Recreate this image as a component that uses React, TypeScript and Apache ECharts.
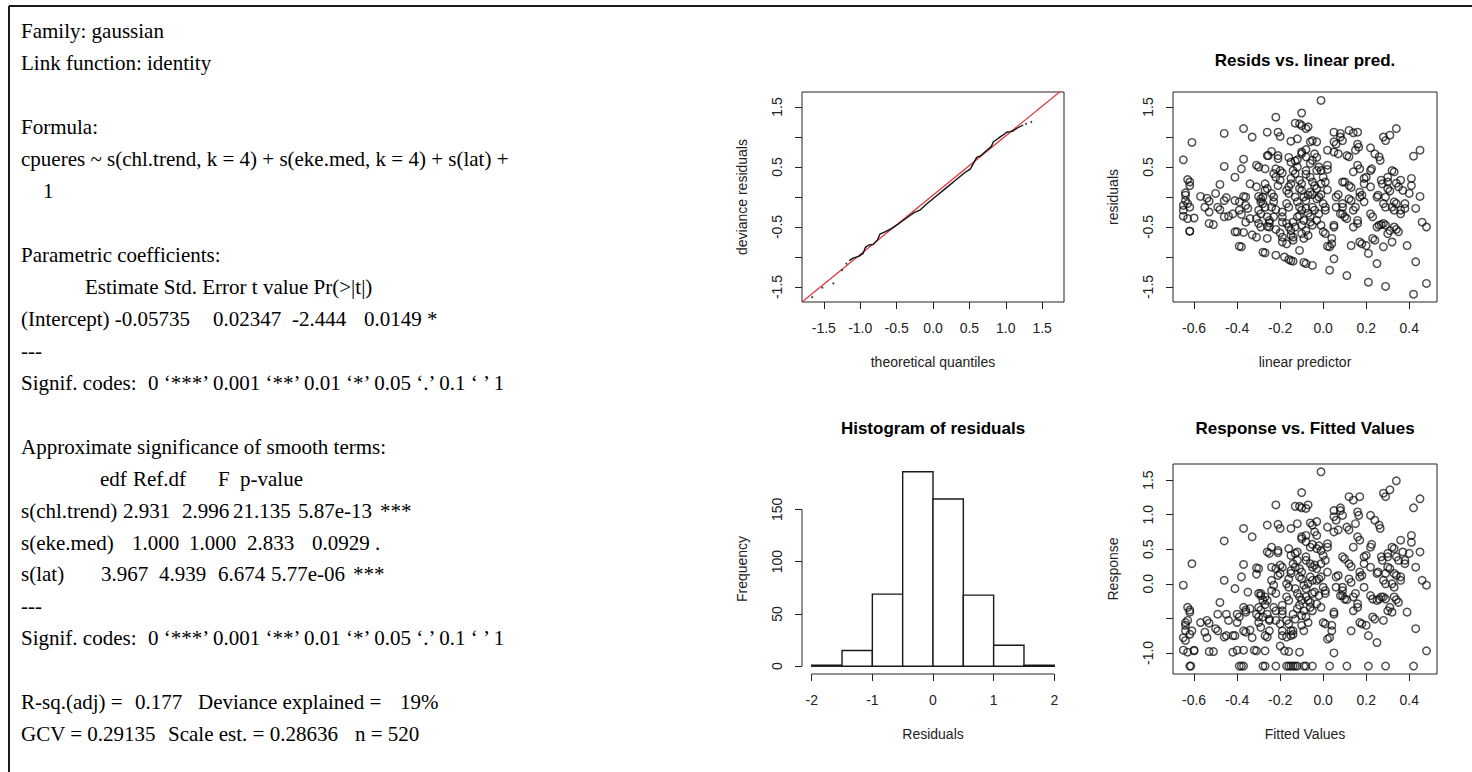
import React, { useEffect, useRef } from "react";
import * as echarts from "echarts";

// ---------------- data ----------------
// QQ plot: theoretical quantiles vs deviance residuals (dense curve)
const qqTheoretical = [-1.15, -1.1, -1.02, -0.96, -0.93, -0.88, -0.82, -0.76, -0.73, -0.66, -0.58, -0.5, -0.42, -0.34, -0.26, -0.18, -0.1, -0.02, 0.05, 0.14, 0.22, 0.3, 0.38, 0.45, 0.51, 0.56, 0.6, 0.66, 0.74, 0.8, 0.83, 0.9, 0.96, 1.01, 1.06, 1.1, 1.16, 1.24];
const qqSample = [-1.06, -1.02, -0.99, -0.94, -0.84, -0.8, -0.79, -0.71, -0.62, -0.58, -0.53, -0.47, -0.4, -0.33, -0.26, -0.22, -0.13, -0.05, 0.02, 0.11, 0.19, 0.27, 0.35, 0.42, 0.46, 0.57, 0.66, 0.69, 0.78, 0.84, 0.92, 0.98, 1.03, 1.08, 1.09, 1.1, 1.15, 1.2];
// isolated QQ points at the tails
const qqTailPoints: [number, number][] = [[-1.66, -1.67], [-1.52, -1.51], [-1.37, -1.44], [-1.25, -1.22], [-1.19, -1.11], [1.28, 1.22], [1.35, 1.25]];
// reference (red) line end points
const qqRefLine: [number, number][] = [[-1.8, -1.75], [1.8, 1.81]];

// Histogram of residuals: bin edges and counts
const histBinEdges = [-2, -1.5, -1, -0.5, 0, 0.5, 1, 1.5, 2];
const histCounts = [1, 15, 69, 186, 160, 68, 20, 1];

// Residuals vs linear predictor [linear predictor, residual]
const residVsPred: [number, number][] = [
  [-0.65, 0.62], [-0.61, 0.91], [-0.63, 0.29], [-0.62, 0.25], [-0.64, 0.07], [-0.64, 0.03], [-0.65, -0.14], [-0.65, -0.22], [-0.65, -0.32], [-0.63, -0.36], [-0.63, -0.11], [-0.62, -0.17], [-0.62, -0.57], [-0.62, -0.57], [-0.6, -0.35], [-0.62, 0.19], [-0.64, -0.06],
  [-0.57, 0.01], [-0.54, -0.02], [-0.53, -0.07], [-0.55, -0.17], [-0.53, -0.25], [-0.53, -0.44], [-0.51, -0.46], [-0.5, 0.06], [-0.48, 0.21], [-0.49, -0.17], [-0.48, -0.21], [-0.46, 0.51], [-0.46, 1.06], [-0.46, -0.06], [-0.45, -0.01], [-0.46, -0.33], [-0.44, -0.32],
  [-0.41, -0.58], [-0.4, -0.58], [-0.41, 0.33], [-0.41, -0.06], [-0.39, -0.08], [-0.42, -0.28], [-0.39, -0.22], [-0.38, -0.29], [-0.39, -0.82], [-0.38, -0.83], [-0.38, 0.47], [-0.37, 1.14], [-0.37, 0.63], [-0.37, 0.01], [-0.36, 0.0], [-0.37, -0.59], [-0.36, -0.42], [-0.36, -0.14], [-0.35, -0.19], [-0.34, -0.36],
  [-0.33, 1.0], [-0.34, 0.22], [-0.33, -0.63], [-0.31, -0.67], [-0.31, 0.53], [-0.3, 0.5], [-0.31, 0.17], [-0.3, 0.01], [-0.29, -0.03], [-0.29, -0.08], [-0.3, -0.22], [-0.29, -0.28], [-0.31, -0.36], [-0.3, -0.44], [-0.29, -0.5], [-0.28, -0.92], [-0.27, -0.93], [-0.28, -0.11], [-0.27, -0.17], [-0.27, 0.11], [-0.26, 0.14], [-0.27, 0.22], [-0.27, 0.47], [-0.26, 0.69], [-0.255, 0.69], [-0.26, 1.08], [-0.26, -0.33], [-0.25, -0.39], [-0.25, -0.43], [-0.25, -0.5], [-0.26, -0.49], [-0.26, -0.69], [-0.28, 0.0],
  [-0.24, 0.76], [-0.23, 0.39], [-0.22, 0.33], [-0.24, 0.06], [-0.23, 0.0], [-0.23, -0.08], [-0.24, -0.17], [-0.22, -0.21], [-0.23, -0.33], [-0.22, 1.33], [-0.21, 1.08], [-0.2, 1.01], [-0.21, 0.69], [-0.21, 0.64], [-0.22, 0.47], [-0.21, 0.19], [-0.2, 0.28], [-0.22, -0.54], [-0.2, -0.6], [-0.22, -0.97], [-0.19, -0.67], [-0.19, -0.75], [-0.19, -0.25], [-0.19, -0.33], [-0.19, -0.42], [-0.2, 0.44], [-0.19, 0.4], [-0.18, -1.0], [-0.16, -1.04], [-0.17, -0.78], [-0.16, 0.66], [-0.16, 0.17], [-0.17, 0.11], [-0.16, 0.06], [-0.17, -0.11], [-0.16, -0.17], [-0.17, -0.44], [-0.16, -0.5], [-0.15, -0.56], [-0.15, -0.64], [-0.15, 0.93], [-0.15, 0.58], [-0.15, 0.31], [-0.15, 0.22],
  [-0.15, -1.06], [-0.14, -1.07], [-0.14, -0.67], [-0.14, -0.72], [-0.14, -0.42], [-0.13, -0.5], [-0.12, -0.33], [-0.13, 0.0], [-0.12, -0.08], [-0.14, 0.44], [-0.13, 0.39], [-0.12, 0.5], [-0.13, 1.23], [-0.13, 0.6], [-0.12, 0.62], [-0.12, 0.97], [-0.11, -0.89], [-0.11, 1.22], [-0.1, 1.19], [-0.1, 1.4], [-0.1, 0.72], [-0.1, 0.75], [-0.11, 0.28], [-0.1, 0.22], [-0.11, 0.14], [-0.1, 0.11], [-0.11, -0.17], [-0.1, -0.22], [-0.11, -0.31], [-0.09, -0.39], [-0.1, -0.47], [-0.1, -0.61], [-0.09, -0.69], [-0.09, -1.09], [-0.08, -1.11], [-0.08, 1.14], [-0.07, 1.17], [-0.08, 0.79], [-0.08, 0.67], [-0.08, 0.44], [-0.08, 0.38], [-0.09, 0.0], [-0.08, -0.06], [-0.07, 0.03], [-0.08, -0.19], [-0.07, -0.27], [-0.08, -0.56], [-0.07, -0.64], [-0.06, 0.92], [-0.05, 0.94], [-0.05, -1.14], [-0.06, 0.56], [-0.05, 0.61], [-0.06, 0.33], [-0.05, 0.25], [-0.06, 0.08], [-0.05, 0.04], [-0.05, -0.17], [-0.06, -0.33], [-0.06, -0.42], [-0.05, -0.47],
  [-0.01, 1.61], [-0.03, 0.92], [-0.04, 0.72], [-0.03, 0.66], [-0.03, 0.44], [-0.02, 0.5], [-0.04, 0.19], [-0.03, 0.14], [-0.01, 0.22], [-0.03, -0.03], [-0.02, 0.0], [-0.01, 0.04], [-0.04, -0.22], [-0.02, -0.28], [-0.03, -0.39], [-0.01, -0.47], [0.0, -0.58], [0.01, -0.61], [-0.01, 0.44], [0.0, 0.33], [0.01, 0.25], [0.0, -0.11], [0.01, -0.17], [0.01, -0.22], [0.02, 0.78], [0.02, 0.53], [0.02, 0.46], [0.02, 0.12], [0.02, -0.82], [0.03, -0.83], [0.03, -1.22], [0.04, -0.69], [0.04, -0.78], [0.05, -1.03], [0.05, -0.47], [0.05, -0.5], [0.05, 0.92], [0.06, 0.88], [0.05, 1.08], [0.05, 0.75], [0.06, 0.0], [0.07, 0.04], [0.06, -0.17],
  [0.08, 1.0], [0.09, 0.94], [0.08, 1.06], [0.07, 0.72], [0.09, -0.11], [0.09, -0.17], [0.09, -0.28], [0.08, -0.28], [0.09, 0.25], [0.1, 0.25], [0.1, -0.33], [0.11, -0.36], [0.11, -1.31], [0.11, 0.69], [0.12, 0.67], [0.12, 1.11], [0.12, 0.19], [0.13, 0.16], [0.12, -0.03], [0.13, -0.06], [0.13, -0.81], [0.14, 1.07], [0.14, 0.42], [0.14, -0.22], [0.15, -0.17], [0.14, -0.5], [0.15, 0.78], [0.16, -0.39], [0.16, -0.44],
  [0.16, 0.88], [0.165, 0.83], [0.16, 1.08], [0.16, 0.53], [0.17, 0.47], [0.17, 0.08], [0.18, 0.03], [0.17, 0.0], [0.17, -0.75], [0.18, -0.78], [0.19, 0.22], [0.19, 0.31], [0.2, 0.33], [0.19, -0.08], [0.2, -0.81], [0.21, -0.94], [0.21, -1.42], [0.22, 0.44], [0.225, 0.47], [0.22, 0.17], [0.22, 0.82], [0.22, -0.28], [0.23, -0.33], [0.23, -0.69], [0.24, -0.72], [0.24, 0.72], [0.25, 0.0], [0.255, 0.03], [0.25, -1.11], [0.25, -0.5], [0.26, -0.47], [0.27, -0.46],
  [0.26, 0.67], [0.265, 0.61], [0.27, 0.28], [0.275, 0.22], [0.28, 1.0], [0.28, -0.11], [0.29, -0.17], [0.28, -0.44], [0.29, -0.47], [0.28, -0.83], [0.29, -1.49], [0.29, 0.0], [0.29, 0.94], [0.31, 1.03], [0.3, 0.33], [0.3, 0.25], [0.3, 0.14], [0.31, 0.1], [0.3, -0.61], [0.31, -0.56], [0.32, -0.75], [0.32, 0.44], [0.33, 0.42], [0.32, -0.17], [0.33, -0.22], [0.33, -0.5], [0.34, -0.54], [0.35, -0.58], [0.34, 1.14], [0.33, -0.08], [0.34, -0.11], [0.34, 0.23], [0.35, 0.17],
  [0.36, -0.22], [0.36, -0.28], [0.36, 0.28], [0.37, 0.11], [0.38, -0.11], [0.38, -0.19], [0.39, -0.81], [0.4, 0.06], [0.41, 0.31], [0.41, 0.19], [0.42, 0.68], [0.42, -1.62], [0.43, -1.08], [0.43, -0.19], [0.45, 0.01], [0.45, 0.78], [0.46, -0.42], [0.48, -0.5], [0.48, -1.44],
];

// Response vs fitted values [fitted, response]
const responseVsFitted: [number, number][] = [
  [-0.65, -0.02], [-0.61, 0.29], [-0.63, -0.34], [-0.62, -0.38], [-0.62, -0.41], [-0.64, -0.56], [-0.64, -0.6], [-0.63, -0.53], [-0.65, -0.78], [-0.64, -0.82], [-0.62, -0.73], [-0.65, -0.96], [-0.63, -0.99], [-0.6, -0.96], [-0.6, -0.97], [-0.62, -1.19], [-0.615, -1.19], [-0.61, -0.68], [-0.64, -0.68],
  [-0.57, -0.56], [-0.54, -0.53], [-0.53, -0.57], [-0.55, -0.7], [-0.54, -0.78], [-0.53, -0.98], [-0.51, -0.98], [-0.5, -0.65], [-0.49, -0.68], [-0.48, -0.27], [-0.49, -0.44], [-0.46, 0.62], [-0.46, 0.05], [-0.46, -0.77], [-0.45, -0.75], [-0.44, -0.53], [-0.45, -0.44],
  [-0.42, -0.75], [-0.41, -0.75], [-0.42, -0.99], [-0.4, -0.96], [-0.41, -0.07], [-0.4, -0.44], [-0.39, -0.48], [-0.4, -0.56], [-0.39, -1.19], [-0.37, -1.19], [-0.38, -1.19], [-0.38, 0.1], [-0.37, 0.8], [-0.37, 0.28], [-0.37, -0.34], [-0.36, -0.38], [-0.36, -0.41], [-0.37, -0.68], [-0.36, -0.7], [-0.37, -0.96], [-0.35, -0.12], [-0.34, -0.36], [-0.34, -0.67], [-0.33, -0.78], [-0.33, 0.68], [-0.32, -0.96], [-0.31, -0.97],
  [-0.31, 0.23], [-0.3, 0.22], [-0.31, 0.14], [-0.3, -0.14], [-0.29, -0.14], [-0.29, -0.17], [-0.3, -0.34], [-0.29, -0.38], [-0.31, -0.44], [-0.3, -0.48], [-0.3, -0.56], [-0.29, -0.63], [-0.28, -1.19], [-0.27, -1.19], [-0.28, -0.24], [-0.27, -0.3], [-0.27, -0.75], [-0.26, -0.77], [-0.27, -0.97], [-0.27, -0.19], [-0.26, -0.24], [-0.26, 0.46], [-0.25, 0.44], [-0.26, 0.85], [-0.26, -0.44], [-0.25, -0.51], [-0.25, -0.53], [-0.25, -0.68], [-0.28, -0.48],
  [-0.24, 0.53], [-0.24, 0.24], [-0.22, 0.22], [-0.24, 0.05], [-0.23, -0.02], [-0.24, -0.1], [-0.22, -0.14], [-0.23, -0.34], [-0.22, -0.39], [-0.22, 1.14], [-0.21, 0.86], [-0.2, 0.8], [-0.21, 0.48], [-0.21, 0.45], [-0.22, -1.19], [-0.21, 0.12], [-0.2, 0.15], [-0.22, -0.53], [-0.2, -0.58], [-0.2, -0.9], [-0.19, -0.68], [-0.19, -0.75], [-0.19, -0.31], [-0.19, -0.39], [-0.19, -0.44], [-0.2, 0.27], [-0.19, 0.24], [-0.18, -0.97], [-0.16, -0.98], [-0.17, -1.19], [-0.16, -1.19], [-0.15, -1.19], [-0.17, -0.77], [-0.16, 0.51], [-0.16, 0.07], [-0.17, 0.0], [-0.16, -0.05], [-0.17, -0.19], [-0.16, -0.24], [-0.17, -0.53], [-0.16, -0.58], [-0.15, -0.68], [-0.15, -0.75], [-0.15, 0.8], [-0.15, 0.41], [-0.15, 0.19], [-0.15, 0.15],
  [-0.14, -1.19], [-0.13, -1.19], [-0.12, -1.19], [-0.14, -0.68], [-0.14, -0.73], [-0.14, -0.44], [-0.13, -0.51], [-0.12, -0.36], [-0.13, -0.07], [-0.12, -0.14], [-0.14, 0.29], [-0.13, 0.24], [-0.12, 0.34], [-0.13, 1.12], [-0.13, 0.44], [-0.12, 0.46], [-0.12, 0.87], [-0.11, -0.99], [-0.11, 1.12], [-0.1, 1.1], [-0.1, 1.32], [-0.1, 0.65], [-0.1, 0.68], [-0.11, 0.22], [-0.1, 0.17], [-0.11, 0.1], [-0.1, 0.07], [-0.11, -0.19], [-0.1, -0.24], [-0.11, -0.31], [-0.09, -0.39], [-0.1, -0.46], [-0.1, -0.6], [-0.09, -0.68], [-0.09, -1.19], [-0.08, -1.19], [-0.08, 1.09], [-0.07, 1.14], [-0.08, 0.7], [-0.08, 0.61], [-0.08, 0.39], [-0.08, 0.34], [-0.09, -0.02], [-0.08, -0.07], [-0.07, 0.0], [-0.08, -0.19], [-0.07, -0.24], [-0.08, -0.48], [-0.07, -0.56], [-0.06, 0.88], [-0.05, 0.85], [-0.05, -1.19], [-0.06, 0.53], [-0.05, 0.57], [-0.06, 0.29], [-0.05, 0.24], [-0.06, 0.1], [-0.05, 0.05], [-0.05, -0.14], [-0.06, -0.27], [-0.06, -0.34], [-0.05, -0.39],
  [-0.01, 1.62], [-0.03, 0.9], [-0.04, 0.75], [-0.03, 0.7], [-0.03, 0.51], [-0.02, 0.55], [-0.04, 0.27], [-0.03, 0.22], [-0.01, 0.29], [-0.03, 0.05], [-0.02, 0.07], [-0.01, 0.1], [-0.04, -0.12], [-0.02, -0.17], [-0.03, -0.29], [-0.01, -0.34], [0.0, -0.56], [0.01, -0.58], [-0.01, 0.48], [0.0, 0.41], [0.01, 0.34], [0.0, -0.05], [0.01, -0.1], [0.01, -0.14], [0.02, 0.82], [0.02, 0.58], [0.02, 0.53], [0.02, 0.17], [0.02, -0.8], [0.03, -0.78], [0.03, -1.19], [0.04, -0.6], [0.04, -0.68], [0.05, -1.0], [0.05, -0.41], [0.05, -0.44], [0.05, 0.97], [0.06, 0.92], [0.05, 1.06], [0.05, 0.75], [0.06, 0.1], [0.07, 0.12], [0.06, -0.05],
  [0.08, 1.06], [0.09, 0.99], [0.08, 1.1], [0.07, 0.78], [0.09, -0.05], [0.09, -0.1], [0.09, -0.17], [0.08, -0.17], [0.09, 0.39], [0.1, 0.36], [0.1, -0.22], [0.11, -0.23], [0.11, -1.19], [0.11, 0.82], [0.12, 0.78], [0.12, 1.26], [0.12, 0.29], [0.13, 0.25], [0.12, 0.07], [0.13, 0.02], [0.13, -0.68], [0.14, 1.21], [0.14, 0.53], [0.14, -0.19], [0.15, -0.14], [0.14, -0.39], [0.15, 0.87], [0.16, -0.29], [0.16, -0.34],
  [0.16, 1.04], [0.165, 0.99], [0.17, 1.26], [0.16, 0.68], [0.17, 0.63], [0.17, 0.17], [0.18, 0.12], [0.17, 0.1], [0.17, -0.56], [0.18, -0.58], [0.19, 0.29], [0.19, 0.39], [0.2, 0.41], [0.19, -0.05], [0.2, -0.6], [0.21, -0.75], [0.21, -1.19], [0.22, 0.53], [0.225, 0.57], [0.22, 0.24], [0.22, 0.99], [0.22, -0.17], [0.23, -0.22], [0.23, -0.48], [0.24, -0.51], [0.24, 0.92], [0.25, 0.15], [0.255, 0.17], [0.25, -0.85], [0.25, -0.24], [0.26, -0.22], [0.27, -0.19],
  [0.26, 0.85], [0.265, 0.8], [0.27, 0.39], [0.275, 0.34], [0.28, 1.31], [0.28, 0.05], [0.29, 0.0], [0.28, -0.19], [0.29, -0.22], [0.28, -0.53], [0.29, -1.19], [0.29, 0.15], [0.29, 1.26], [0.31, 1.36], [0.3, 0.44], [0.3, 0.39], [0.3, 0.24], [0.31, 0.22], [0.3, -0.39], [0.31, -0.34], [0.32, -0.41], [0.32, 0.53], [0.33, 0.51], [0.32, 0.0], [0.33, -0.05], [0.33, -0.19], [0.34, -0.23], [0.35, -0.27], [0.34, 1.49], [0.33, 0.15], [0.34, 0.12], [0.34, 0.39], [0.35, 0.34],
  [0.36, 0.1], [0.36, 0.05], [0.36, 0.63], [0.37, 0.46], [0.38, 0.34], [0.38, 0.29], [0.39, -0.41], [0.4, 0.44], [0.41, 0.7], [0.41, 0.6], [0.42, 1.1], [0.42, -1.19], [0.43, -0.65], [0.43, 0.24], [0.45, 0.46], [0.45, 1.23], [0.46, 0.05], [0.48, -0.02], [0.48, -0.97],
];

// tick values
const qqXTicks = [-1.5, -1, -0.5, 0, 0.5, 1, 1.5];
const qqYTicks = [-1.5, -1, -0.5, 0, 0.5, 1, 1.5];
const qqYLabels = [-1.5, -0.5, 0.5, 1.5];
const predXTicks = [-0.6, -0.4, -0.2, 0, 0.2, 0.4];
const residYTicks = [-1.5, -1, -0.5, 0, 0.5, 1, 1.5];
const residYLabels = [-1.5, -0.5, 0.5, 1.5];
const histXTicks = [-2, -1, 0, 1, 2];
const histYTicks = [0, 50, 100, 150];
const respYTicks = [-1, -0.5, 0, 0.5, 1, 1.5];
const respYLabels = [-1, 0, 0.5, 1, 1.5];

// panel texts
const panelTitles = ["Resids vs. linear pred.", "Histogram of residuals", "Response vs. Fitted Values"];
const xNames = ["theoretical quantiles", "linear predictor", "Residuals", "Fitted Values"];
const yNames = ["deviance residuals", "residuals", "Frequency", "Response"];

// R summary text (line index, x position, text)
const summaryText: [number, number, string][] = [
  [0, 21, "Family: gaussian"],
  [1, 21, "Link function: identity"],
  [3, 21, "Formula:"],
  [4, 21, "cpueres ~ s(chl.trend, k = 4) + s(eke.med, k = 4) + s(lat) +"],
  [5, 43, "1"],
  [7, 21, "Parametric coefficients:"],
  [8, 85, "Estimate Std. Error t value Pr(>|t|)"],
  [9, 21, "(Intercept) -0.05735"], [9, 213, "0.02347"], [9, 292, "-2.444"], [9, 364, "0.0149 *"],
  [10, 21, "---"],
  [11, 21, "Signif. codes:"], [11, 148, "0 \u2018***\u2019 0.001 \u2018**\u2019 0.01 \u2018*\u2019 0.05 \u2018.\u2019 0.1 \u2018 \u2019 1"],
  [13, 21, "Approximate significance of smooth terms:"],
  [14, 100, "edf"], [14, 133, "Ref.df"], [14, 218, "F"], [14, 240, "p-value"],
  [15, 21, "s(chl.trend)"], [15, 123, "2.931"], [15, 182, "2.996"], [15, 233, "21.135"], [15, 298, "5.87e-13"], [15, 380, "***"],
  [16, 21, "s(eke.med)"], [16, 132, "1.000"], [16, 189, "1.000"], [16, 247, "2.833"], [16, 312, "0.0929 ."],
  [17, 21, "s(lat)"], [17, 101, "3.967"], [17, 159, "4.939"], [17, 218, "6.674"], [17, 271, "5.77e-06"], [17, 353, "***"],
  [18, 21, "---"],
  [19, 21, "Signif. codes:"], [19, 148, "0 \u2018***\u2019 0.001 \u2018**\u2019 0.01 \u2018*\u2019 0.05 \u2018.\u2019 0.1 \u2018 \u2019 1"],
  [21, 21, "R-sq.(adj) ="], [21, 135, "0.177"], [21, 198, "Deviance explained ="], [21, 400, "19%"],
  [22, 21, "GCV = 0.29135"], [22, 168, "Scale est. = 0.28636"], [22, 355, "n = 520"],
];

// ---------------- layout ----------------
const SANS = "'Liberation Sans', Arial, Helvetica, sans-serif";
const SERIF = "'Liberation Serif', 'Times New Roman', serif";
const AX = "#222222";
const lineY = (n: number) => 31 + 31.97 * n;

const fmt1 = (v: number) => (Math.abs(v) < 1e-9 ? "0.0" : v.toFixed(1));
const fmt0 = (v: number) => String(Math.round(v));

function xAxisCfg(gridIndex: number, min: number, max: number, ticks: number[], labels: number[], name: string, fmt: (v: number) => string) {
  return {
    type: "value", gridIndex, min, max, name, nameLocation: "middle", nameGap: 53,
    nameTextStyle: { fontFamily: SANS, fontSize: 14, color: AX },
    splitLine: { show: false },
    axisLine: { show: false, onZero: false, lineStyle: { color: AX, width: 1 } },
    axisTick: { show: true, inside: false, length: 7, customValues: ticks, lineStyle: { color: AX, width: 1 } },
    axisLabel: { show: true, customValues: labels, margin: 19, fontFamily: SANS, fontSize: 14, color: AX, formatter: fmt },
  };
}
function yAxisCfg(gridIndex: number, min: number, max: number, ticks: number[], labels: number[], name: string, fmt: (v: number) => string) {
  return {
    type: "value", gridIndex, min, max, name, nameLocation: "middle", nameGap: 53,
    nameTextStyle: { fontFamily: SANS, fontSize: 14, color: AX },
    splitLine: { show: false },
    axisLine: { show: false, onZero: false, lineStyle: { color: AX, width: 1 } },
    axisTick: { show: true, inside: false, length: 7, customValues: ticks, lineStyle: { color: AX, width: 1 } },
    axisLabel: { show: true, customValues: labels, rotate: 90, margin: 18, fontFamily: SANS, fontSize: 14, color: AX, formatter: fmt },
  };
}

const scatterStyle = {
  symbol: "circle",
  symbolSize: 7.5,
  itemStyle: { color: "rgba(0,0,0,0)", borderColor: "rgba(10,10,10,0.9)", borderWidth: 1.45 },
};

export default function App() {
  const ref = useRef<HTMLDivElement>(null);

  useEffect(() => {
    if (!ref.current) return;
    const chart = echarts.init(ref.current, null, { renderer: "svg" });

    const histData = histCounts.map((c, i) => [histBinEdges[i], histBinEdges[i + 1], c]);

    const graphics: any[] = [
      { type: "line", shape: { x1: 9, y1: 6, x2: 1472, y2: 6 }, style: { stroke: "#1a1a1a", lineWidth: 2 } },
      { type: "line", shape: { x1: 9, y1: 6, x2: 9, y2: 772 }, style: { stroke: "#1a1a1a", lineWidth: 2 } },
      ...summaryText.map(([n, x, t]) => ({
        type: "text", x, y: lineY(n),
        style: { text: t, font: `21px ${SERIF}`, fill: "#000", textAlign: "left", textVerticalAlign: "middle" },
      })),
      { type: "text", x: 1305, y: 60, style: { text: panelTitles[0], font: `bold 17px ${SANS}`, fill: "#000", textAlign: "center", textVerticalAlign: "middle" } },
      { type: "text", x: 933, y: 428, style: { text: panelTitles[1], font: `bold 17px ${SANS}`, fill: "#000", textAlign: "center", textVerticalAlign: "middle" } },
      { type: "text", x: 1305, y: 428, style: { text: panelTitles[2], font: `bold 17px ${SANS}`, fill: "#000", textAlign: "center", textVerticalAlign: "middle" } },
    ];

    const option: any = {
      animation: false,
      backgroundColor: "#ffffff",
      grid: [
        { left: 802, top: 92, width: 262, height: 210, show: true, borderColor: AX, borderWidth: 1, backgroundColor: "transparent" },
        { left: 1173, top: 92, width: 264, height: 210, show: true, borderColor: AX, borderWidth: 1, backgroundColor: "transparent" },
        { left: 802, top: 464, width: 262, height: 210, show: false },
        { left: 1173, top: 464, width: 264, height: 210, show: true, borderColor: AX, borderWidth: 1, backgroundColor: "transparent" },
      ],
      xAxis: [
        xAxisCfg(0, -1.8, 1.8, qqXTicks, qqXTicks, xNames[0], fmt1),
        xAxisCfg(1, -0.698, 0.529, predXTicks, predXTicks, xNames[1], fmt1),
        xAxisCfg(2, -2.16, 2.16, histXTicks, histXTicks, xNames[2], fmt0),
        xAxisCfg(3, -0.698, 0.529, predXTicks, predXTicks, xNames[3], fmt1),
      ],
      yAxis: [
        yAxisCfg(0, -1.75, 1.75, qqYTicks, qqYLabels, yNames[0], fmt1),
        yAxisCfg(1, -1.75, 1.75, residYTicks, residYLabels, yNames[1], fmt1),
        yAxisCfg(2, -7.44, 193.44, histYTicks, histYTicks, yNames[2], fmt0),
        yAxisCfg(3, -1.305, 1.733, respYTicks, respYLabels, yNames[3], fmt1),
      ],
      series: [
        {
          type: "line", xAxisIndex: 0, yAxisIndex: 0, data: qqRefLine, symbol: "none", clip: true,
          lineStyle: { color: "#e0393e", width: 1.3 }, z: 3,
        },
        {
          type: "line", xAxisIndex: 0, yAxisIndex: 0, data: qqTheoretical.map((x, i) => [x, qqSample[i]]),
          symbol: "none", lineStyle: { color: "#111", width: 1.4 }, z: 4,
        },
        {
          type: "scatter", xAxisIndex: 0, yAxisIndex: 0, data: qqTailPoints, symbol: "circle", symbolSize: 2,
          itemStyle: { color: "#111" }, z: 4,
        },
        { type: "scatter", xAxisIndex: 1, yAxisIndex: 1, data: residVsPred, ...scatterStyle },
        {
          type: "custom", xAxisIndex: 2, yAxisIndex: 2, data: histData,
          encode: { x: [0, 1], y: 2 },
          renderItem: (params: any, api: any) => {
            const p0 = api.coord([api.value(0), api.value(2)]);
            const p1 = api.coord([api.value(1), 0]);
            return {
              type: "rect",
              shape: { x: p0[0], y: p0[1], width: p1[0] - p0[0], height: p1[1] - p0[1] },
              style: { fill: "#ffffff", stroke: "#1a1a1a", lineWidth: 1.4 },
            };
          },
        },
        {
          type: "line", xAxisIndex: 2, yAxisIndex: 2, data: [[histXTicks[0], -7.44], [histXTicks[histXTicks.length - 1], -7.44]],
          symbol: "none", clip: false, lineStyle: { color: AX, width: 1 },
        },
        {
          type: "line", xAxisIndex: 2, yAxisIndex: 2, data: [[-2.16, histYTicks[0]], [-2.16, histYTicks[histYTicks.length - 1]]],
          symbol: "none", clip: false, lineStyle: { color: AX, width: 1 },
        },
        { type: "scatter", xAxisIndex: 3, yAxisIndex: 3, data: responseVsFitted, ...scatterStyle },
      ],
      graphic: graphics,
    };

    chart.setOption(option);
    return () => chart.dispose();
  }, []);

  return (
    <div
      ref={ref}
      style={{ position: "fixed", left: 0, top: 0, width: 1472, height: 772, background: "#fff" }}
    />
  );
}
